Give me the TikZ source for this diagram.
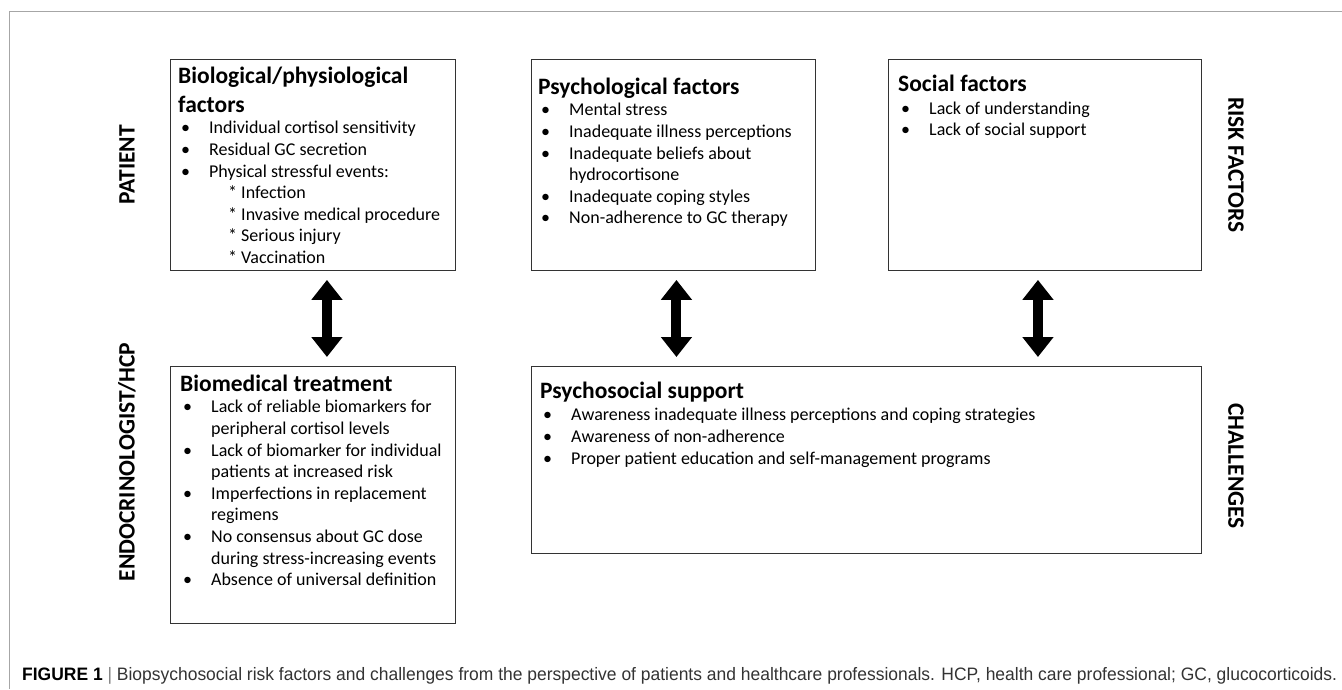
\documentclass[tikz,border=0pt]{standalone}
\usepackage{fontspec}
\setmainfont{Carlito}
\newfontfamily\capfont{Liberation Sans}[FakeStretch=0.97]
\usetikzlibrary{arrows.meta, positioning}
\newcommand{\bul}{\makebox[31pt][l]{\hspace{3pt}\textbullet}}
\newcommand{\cont}{\hspace*{31pt}}
\newcommand{\subitm}{\hspace*{50pt}}
\newcommand{\hd}[1]{{\fontsize{23.5}{29}\selectfont\bfseries #1}}
\newcommand{\tp}{\rule{0pt}{20pt}}

\begin{document}
\begin{tikzpicture}[x=1pt, y=-1pt,
    box/.style={draw=black!80, line width=0.9pt, anchor=north west, inner sep=0pt},
    txt/.style={anchor=north west, inner sep=0pt, align=left,
        font=\fontsize{18}{21.6}\selectfont},
    side/.style={font=\fontsize{23.5}{26}\selectfont\bfseries, inner sep=0pt},
    dbl/.style={line width=10pt,
        {Triangle[width=30pt,length=20pt]}-{Triangle[width=30pt,length=20pt]},
        shorten <=9pt, shorten >=9pt}]
    \useasboundingbox (0,0) rectangle (1342,689);
    % Frame
    \draw[black!35, line width=0.8pt] (1342,11) -- (9,11) -- (9,689);

    % Boxes
    \node[box, minimum width=285pt, minimum height=211pt] (bio) at (170,59) {};
    \node[box, minimum width=284pt, minimum height=211pt] (psych) at (531,59) {};
    \node[box, minimum width=313pt, minimum height=211pt] (social) at (888,59) {};
    \node[box, minimum width=285pt, minimum height=257pt] (biomed) at (170,366) {};
    \node[box, minimum width=670pt, minimum height=187pt] (psysoc) at (531,366) {};

    % Box texts
    \node[txt] (biotxt) at ([xshift=8pt, yshift=-4pt]bio.north west) {%
        \tp\hd{Biological/physiological}\\[7.4pt]
        \hd{factors}\\
        \bul Individual cortisol sensitivity\\
        \bul Residual GC secretion\\
        \bul Physical stressful events:\\
        \subitm* Infection\\
        \subitm* Invasive medical procedure\\
        \subitm* Serious injury\\
        \subitm* Vaccination};
    \node[txt] (psychtxt) at ([xshift=7pt, yshift=-15pt]psych.north west) {%
        \tp\hd{Psychological factors}\\
        \bul Mental stress\\
        \bul Inadequate illness perceptions\\
        \bul Inadequate beliefs about\\
        \cont hydrocortisone\\
        \bul Inadequate coping styles\\
        \bul Non-adherence to GC therapy};
    \node[txt] (socialtxt) at ([xshift=10pt, yshift=-12pt]social.north west) {%
        \tp\hd{Social factors}\\[1.5pt]
        \bul Lack of understanding\\
        \bul Lack of social support};
    \node[txt] (biomedtxt) at ([xshift=10pt, yshift=-5pt]biomed.north west) {%
        \tp\hd{Biomedical treatment}\\
        \bul Lack of reliable biomarkers for\\
        \cont peripheral cortisol levels\\
        \bul Lack of biomarker for individual\\
        \cont patients at increased risk\\
        \bul Imperfections in replacement\\
        \cont regimens\\
        \bul No consensus about GC dose\\
        \cont during stress-increasing events\\
        \bul Absence of universal definition};
    \node[txt, font=\fontsize{18}{22}\selectfont] (psysoctxt) at ([xshift=9pt, yshift=-12pt]psysoc.north west) {%
        \tp\hd{Psychosocial support}\\
        \bul Awareness inadequate illness perceptions and coping strategies\\
        \bul Awareness of non-adherence\\
        \bul Proper patient education and self-management programs};

    % Arrows between the rows
    \draw[dbl] ([xshift=14pt]bio.south) -- ([xshift=14pt]biomed.north);
    \draw[dbl] ([xshift=3pt]psych.south) -- ([xshift=3pt]psych.south |- psysoc.north);
    \draw[dbl] ([xshift=-7pt]social.south) -- ([xshift=-7pt]social.south |- psysoc.north);

    % Side labels
    \node[side, rotate=90] (patient) at (127,165) {PATIENT};
    \node[side, rotate=90] (endo) at (127,462) {ENDOCRINOLOGIST/HCP};
    \node[side, rotate=-90] (risk) at (1236,165) {RISK FACTORS};
    \node[side, rotate=-90] (chall) at (1236,466) {CHALLENGES};

    % Caption
    \node[anchor=west, inner sep=0pt, font=\capfont\fontsize{18}{20}\selectfont] (caption) at (22,676)
        {{\bfseries FIGURE 1}\ \textcolor{black!50}{|}\ \textcolor{black!80}{Biopsychosocial risk factors and challenges from the perspective of patients and healthcare professionals. HCP, health care professional; GC, glucocorticoids.}};
\end{tikzpicture}
\end{document}
